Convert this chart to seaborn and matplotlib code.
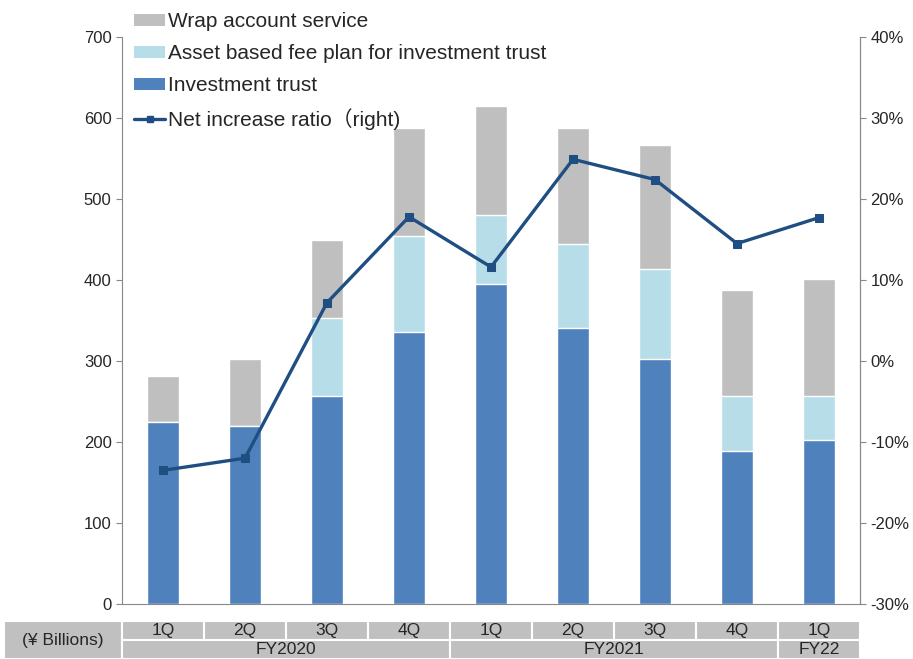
import numpy as np
import pandas as pd
import seaborn as sns
import matplotlib.pyplot as plt
from matplotlib.patches import Rectangle, Patch
from matplotlib.lines import Line2D
from matplotlib.ticker import FuncFormatter

quarters = ["1Q", "2Q", "3Q", "4Q", "1Q", "2Q", "3Q", "4Q", "1Q"]
years = [("FY2020", 0, 4), ("FY2021", 4, 8), ("FY22", 8, 9)]
investment_trust = [225, 220, 257, 336, 395, 341, 302, 189, 202]
asset_based = [0, 0, 96, 118, 85, 103, 112, 68, 55]
wrap_account = [57, 83, 96, 134, 135, 144, 153, 131, 144]
net_ratio = [-13.5, -12.0, 7.2, 17.8, 11.6, 24.9, 22.4, 14.5, 17.7]

sns.set_style("white")
plt.rcParams["font.family"] = ["Liberation Sans", "Noto Sans CJK JP", "DejaVu Sans"]

c_blue = "#4f81bd"
c_light = "#b7dde8"
c_gray = "#bfbfbf"
c_line = "#1f4e82"

df = pd.DataFrame({
    "pos": [str(i) for i in range(9)],
    "it": investment_trust,
    "ab": np.add(investment_trust, asset_based),
    "tot": np.add(np.add(investment_trust, asset_based), wrap_account),
})

fig = plt.figure(figsize=(9.13, 6.59), dpi=100)
ax = fig.add_axes([122 / 913, 55 / 659, 738 / 913, 567 / 659])

for col, color in [("tot", c_gray), ("ab", c_light), ("it", c_blue)]:
    sns.barplot(data=df, x="pos", y=col, color=color, width=0.39,
                edgecolor="white", linewidth=1, saturation=1, ax=ax)

ax.set_ylim(0, 700)
ax.set_yticks(range(0, 701, 100))
ax.set_xlim(-0.5, 8.5)
ax.set_xticks([])
ax.set_xlabel("")
ax.set_ylabel("")
ax.tick_params(axis="y", labelsize=12, length=4, left=True, color="#888888", width=0.8)
ax.spines["top"].set_visible(False)
for s in ["left", "bottom", "right"]:
    ax.spines[s].set_color("#888888")
    ax.spines[s].set_linewidth(0.8)

ax2 = ax.twinx()
sns.lineplot(x=np.arange(9), y=net_ratio, ax=ax2, color=c_line, linewidth=2.4,
             marker="s", markersize=6, markeredgecolor=c_line)
ax2.set_ylim(-30, 40)
ax2.set_yticks(range(-30, 41, 10))
ax2.yaxis.set_major_formatter(FuncFormatter(lambda v, p: f"{v:.0f}%"))
ax2.tick_params(axis="y", labelsize=12, length=4, right=True, color="#888888", width=0.8)
ax2.spines["top"].set_visible(False)
ax2.spines["right"].set_color("#888888")
ax2.spines["right"].set_linewidth(0.8)
ax2.spines["left"].set_visible(False)
ax2.spines["bottom"].set_visible(False)
ax2.set_xlim(-0.5, 8.5)

# table under the chart
unit = 738 / 9
left_edge = -0.5 - 118 / unit
tab = fig.add_axes([4 / 913, 0, 856 / 913, 38 / 659])
tab.set_xlim(left_edge, 8.5)
tab.set_ylim(0, 2)
tab.axis("off")
cell = "#c0c0c0"
tab.add_patch(Rectangle((left_edge, 0), -0.5 - left_edge, 2, facecolor=cell,
                        edgecolor="white", linewidth=1.5))
tab.text((left_edge - 0.5) / 2, 1, "(¥ Billions)", ha="center", va="center", fontsize=12.5)
for i, q in enumerate(quarters):
    tab.add_patch(Rectangle((i - 0.5, 1), 1, 1, facecolor=cell, edgecolor="white", linewidth=1.5))
    tab.text(i, 1.5, q, ha="center", va="center", fontsize=12.5)
for name, a, b in years:
    tab.add_patch(Rectangle((a - 0.5, 0), b - a, 1, facecolor=cell, edgecolor="white", linewidth=1.5))
    tab.text((a + b - 1) / 2, 0.5, name, ha="center", va="center", fontsize=12.5)

handles = [
    Patch(facecolor=c_gray, edgecolor="none"),
    Patch(facecolor=c_light, edgecolor="none"),
    Patch(facecolor=c_blue, edgecolor="none"),
    Line2D([0], [0], color=c_line, linewidth=2.4, marker="s", markersize=5),
]
labels = ["Wrap account service", "Asset based fee plan for investment trust",
          "Investment trust", "Net increase ratio\uff08right)"]
fig.legend(handles, labels, loc="upper left", bbox_to_anchor=(124 / 913, 0.997),
           frameon=False, fontsize=15, handlelength=1.45, handleheight=0.5,
           handletextpad=0.15, labelspacing=0.62, borderaxespad=0.1)

fig.savefig("out.png", dpi=100)
